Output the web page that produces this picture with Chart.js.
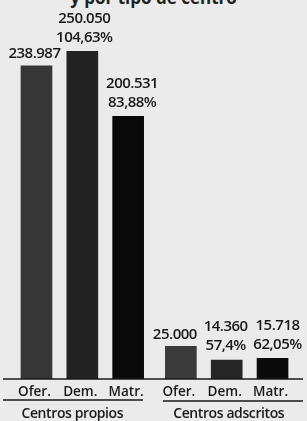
<!DOCTYPE html>
<html>
<head>
<meta charset="utf-8">
<script src="https://cdn.jsdelivr.net/npm/chart.js@4"></script>
<style>
    html, body { margin: 0; padding: 0; background: #ebebeb; }
    .wrap { position: relative; width: 307px; height: 421px; overflow: hidden; }
    .titulo {
        position: absolute; left: 0; width: 307px; top: -14px;
        text-align: center; font: bold 17px "Open Sans", sans-serif; color: #222;
    }
    canvas { position: absolute; left: 0; top: 0; }
</style>
</head>
<body>
<div class="wrap">
    <div class="titulo">y por tipo de centro</div>
    <canvas id="chartPlazas" width="307" height="421"></canvas>
</div>
<script>
const categorias = ['Ofer.', 'Dem.', 'Matr.', 'Ofer.', 'Dem.', 'Matr.'];
const grupos = ['Centros propios', 'Centros adscritos'];
const valores = [238987, 250050, 200531, 25000, 14360, 15718];
const etiquetasValor = ['238.987', '250.050', '200.531', '25.000', '14.360', '15.718'];
const etiquetasPct = ['', '104,63%', '83,88%', '', '57,4%', '62,05%'];
const colores = ['#363636', '#232323', '#090909', '#3a3a3a', '#262626', '#0a0a0a'];

// posicion en el eje x: los adscritos van un poco mas separados
const posX = categorias.map((c, i) => i + (i >= 3 ? 0.15 : 0));
// desplazamiento horizontal de cada etiqueta respecto a su barra
const despEtiqueta = [-2, 2, 4, -6, -1, 5];

const fuenteValor = '600 15px "Open Sans", sans-serif';
const fuenteEje = '600 13.5px "Open Sans", sans-serif';

const etiquetasPlugin = {
    id: 'etiquetas',
    afterDatasetsDraw(chart) {
        const ctx = chart.ctx;
        const meta = chart.getDatasetMeta(0);
        ctx.save();
        ctx.fillStyle = '#1a1a1a';
        ctx.textAlign = 'center';
        ctx.textBaseline = 'middle';

        // valores encima de las barras
        ctx.font = fuenteValor;
        ctx.letterSpacing = '-0.5px';
        meta.data.forEach((bar, i) => {
            const cx = bar.x + despEtiqueta[i];
            if (etiquetasPct[i]) {
                ctx.fillText(etiquetasValor[i], cx, bar.y - 33);
                ctx.fillText(etiquetasPct[i], cx, bar.y - 14);
            } else {
                ctx.fillText(etiquetasValor[i], cx, bar.y - 12);
            }
        });

        // linea base
        const base = chart.scales.y.getPixelForValue(0);
        ctx.strokeStyle = '#1a1a1a';
        ctx.lineWidth = 1.5;
        ctx.beginPath();
        ctx.moveTo(3, base);
        ctx.lineTo(303, base);
        ctx.stroke();

        // categorias
        ctx.font = fuenteEje;
        ctx.letterSpacing = '0px';
        meta.data.forEach((bar, i) => {
            ctx.fillText(categorias[i], bar.x - 2, base + 13);
        });

        // lineas de grupo
        ctx.beginPath();
        ctx.moveTo(3, base + 21);
        ctx.lineTo(143, base + 21);
        ctx.moveTo(163, base + 22);
        ctx.lineTo(303, base + 22);
        ctx.stroke();

        ctx.font = '600 14px "Open Sans", sans-serif';
        ctx.letterSpacing = '-0.4px';
        const c1 = (meta.data[0].x + meta.data[2].x) / 2;
        const c2 = (meta.data[3].x + meta.data[5].x) / 2;
        ctx.fillText(grupos[0], c1 - 10, base + 35);
        ctx.fillText(grupos[1], c2 + 2, base + 35);
        ctx.restore();
    }
};

const canvas = document.getElementById('chartPlazas');
const chartPlazas = new Chart(canvas.getContext('2d'), {
    type: 'bar',
    data: {
        datasets: [{
            data: valores.map((v, i) => ({ x: posX[i], y: v })),
            backgroundColor: colores,
            barThickness: 31,
            borderWidth: 0
        }]
    },
    options: {
        responsive: false,
        animation: false,
        layout: { padding: { top: 0, left: 0, right: 0, bottom: 42 } },
        plugins: {
            legend: { display: false },
            tooltip: { enabled: false }
        },
        scales: {
            x: {
                type: 'linear',
                offset: false,
                min: -0.796,
                max: 5.902,
                display: false
            },
            y: {
                min: 0,
                max: 289300,
                display: false
            }
        }
    },
    plugins: [etiquetasPlugin]
});
</script>
</body>
</html>
